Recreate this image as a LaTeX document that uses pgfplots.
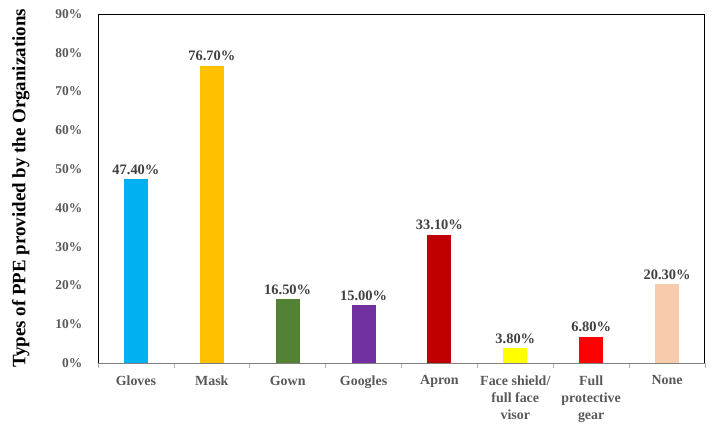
\documentclass[border=0pt]{standalone}
\usepackage{fontspec}
\setmainfont{Liberation Serif}
\usepackage{pgfplots}
\pgfplotsset{compat=1.18}
\definecolor{cGloves}{HTML}{00B0F0}
\definecolor{cMask}{HTML}{FFC000}
\definecolor{cGown}{HTML}{548235}
\definecolor{cGoogles}{HTML}{7030A0}
\definecolor{cApron}{HTML}{C00000}
\definecolor{cFace}{HTML}{FFFF00}
\definecolor{cFull}{HTML}{FF0000}
\definecolor{cNone}{HTML}{F8CBAD}
\definecolor{tickgray}{HTML}{595959}
\definecolor{labgray}{HTML}{404040}
\begin{document}
\begin{tikzpicture}
\begin{axis}[
  /pgf/number format/assume math mode=true,
  at={(0,0)}, anchor=south west,
  scale only axis, width=607bp, height=349bp,
  xmin=-0.5, xmax=7.5, ymin=0, ymax=90,
  ybar, bar width=24bp,
  xtick={0,...,7},
  xticklabels={Gloves, Mask, Gown, Googles, Apron, {Face shield/\\full face\\visor}, {Full\\protective\\gear}, None},
  xticklabel style={align=center, font=\fontsize{14}{17}\selectfont\bfseries, text=tickgray, yshift=-5bp},
  minor xtick={-0.5,0.5,...,7.5},
  major x tick style={draw=none},
  minor x tick style={draw=gray!60, line width=0.6pt},
  minor tick length=5bp,
  tick align=outside,
  xtick pos=left,
  ytick={0,10,...,90},
  yticklabel={\pgfmathprintnumber{\tick}\%},
  yticklabel style={font=\fontsize{13.5}{15}\selectfont\bfseries, text=tickgray, xshift=-8bp},
  major y tick style={draw=none},
  ytick pos=left,
  axis line style={black, line width=1pt},
  ylabel={Types of PPE provided by the Organizations},
  ylabel style={at={(axis description cs:-0.127,0.5)}, anchor=center, font=\fontsize{19}{21}\selectfont\bfseries},
  nodes near coords={\pgfmathprintnumber[fixed, fixed zerofill, precision=2]{\pgfplotspointmeta}\%},
  nodes near coords style={font=\fontsize{14.5}{16}\selectfont\bfseries, text=labgray, yshift=1bp},
  every axis plot/.append style={bar shift=0pt, draw=none},
]
\addplot[fill=cGloves] coordinates {(0,47.4)};
\addplot[fill=cMask] coordinates {(1,76.7)};
\addplot[fill=cGown] coordinates {(2,16.5)};
\addplot[fill=cGoogles] coordinates {(3,15.0)};
\addplot[fill=cApron] coordinates {(4,33.1)};
\addplot[fill=cFace] coordinates {(5,3.8)};
\addplot[fill=cFull] coordinates {(6,6.8)};
\addplot[fill=cNone] coordinates {(7,20.3)};
\draw[gray, line width=1pt] (rel axis cs:0,0) -- (rel axis cs:1,0);
\end{axis}
\pgfresetboundingbox
\path (-98bp,-61bp) rectangle (615bp,363bp);
\end{tikzpicture}
\end{document}
